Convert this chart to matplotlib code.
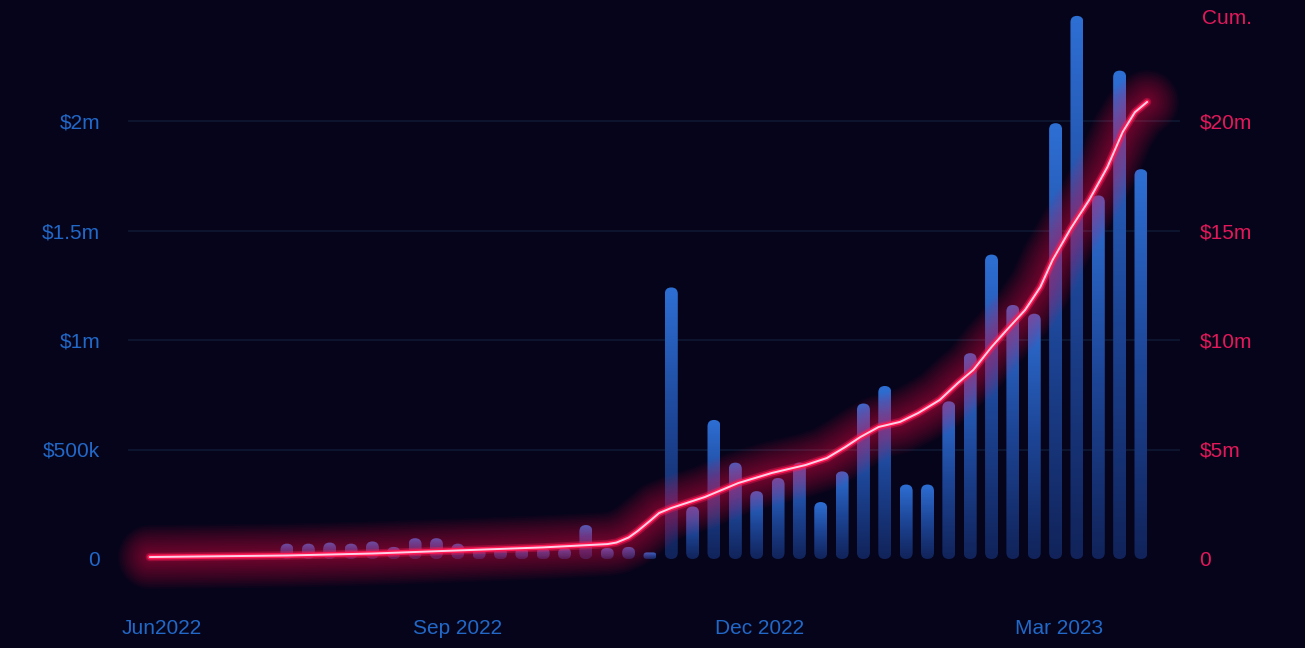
"""Weekly vs cumulative revenue chart, dark neon style."""
import matplotlib
matplotlib.use("Agg")
import matplotlib.pyplot as plt
import matplotlib.dates as mdates
from matplotlib.patches import FancyBboxPatch
from matplotlib.colors import LinearSegmentedColormap
from matplotlib.ticker import FixedLocator
import numpy as np
import pandas as pd

# weekly values ($m), one bar per week
week_start = "2022-07-04"
weekly_usd_m = [
    0.07, 0.07, 0.075, 0.07, 0.08, 0.055, 0.095, 0.095, 0.07, 0.05,
    0.05, 0.05, 0.05, 0.05, 0.155, 0.05, 0.055, 0.03, 1.24, 0.24,
    0.635, 0.44, 0.31, 0.37, 0.44, 0.26, 0.40, 0.71, 0.79, 0.34,
    0.34, 0.72, 0.94, 1.39, 1.16, 1.12, 1.99, 2.48, 1.66, 2.23,
    1.78,
]

# cumulative line ($m)
cum_dates = [
    "2022-05-20", "2022-07-04", "2022-08-01", "2022-08-29", "2022-09-26",
    "2022-10-17", "2022-10-20", "2022-10-24", "2022-10-27", "2022-10-31",
    "2022-11-03", "2022-11-07", "2022-11-18", "2022-11-29", "2022-12-10",
    "2022-12-21", "2022-12-28", "2023-01-03", "2023-01-08", "2023-01-14",
    "2023-01-21", "2023-01-27", "2023-02-03", "2023-02-09", "2023-02-14",
    "2023-02-20", "2023-02-25", "2023-03-03", "2023-03-08", "2023-03-12",
    "2023-03-18", "2023-03-24", "2023-03-30", "2023-04-04", "2023-04-08",
    "2023-04-12",
]
cum_usd_m = [
    0.09, 0.16, 0.25, 0.39, 0.53,
    0.68, 0.75, 0.98, 1.28, 1.74,
    2.10, 2.33, 2.83, 3.47, 3.93,
    4.29, 4.61, 5.11, 5.57, 6.03,
    6.26, 6.67, 7.26, 8.04, 8.63,
    9.68, 10.46, 11.37, 12.42, 13.65,
    15.10, 16.39, 17.90, 19.50, 20.40,
    20.87,
]

tick_dates = ["2022-05-24", "2022-08-29", "2022-12-06", "2023-03-14"]
tick_labels = ["Jun2022", "Sep 2022", "Dec 2022", "Mar 2023"]
left_ticks = [0, 0.5, 1, 1.5, 2]
left_labels = ["0", "$500k", "$1m", "$1.5m", "$2m"]
right_ticks = [0, 5, 10, 15, 20]
right_labels = ["0", "$5m", "$10m", "$15m", "$20m"]

BG = "#06041a"
BLUE_TXT = "#2168c8"
PINK_TXT = "#e3185a"
LINE = "#ff1a55"

plt.rcParams["font.family"] = ["Liberation Sans", "DejaVu Sans"]

W, H = 1305, 648
fig = plt.figure(figsize=(W / 100, H / 100), dpi=100, facecolor=BG)
ax_l, ax_r, ax_t, ax_b = 128, 1180, 0, 580
ax = fig.add_axes([ax_l / W, 1 - ax_b / H, (ax_r - ax_l) / W, (ax_b - ax_t) / H])
ax.set_facecolor(BG)

x = mdates.date2num(pd.date_range(week_start, periods=len(weekly_usd_m), freq="7D"))
d0 = x[0]
px_day = 3.05
px_m = 219.0
xlim = (d0 - (287 - ax_l) / px_day, d0 + (ax_r - 287) / px_day)
ylim = (-(ax_b - 559) / px_m, (559 - ax_t) / px_m)

# grid
for t in left_ticks[1:]:
    ax.axhline(t, color="#0e1630", lw=1.3, zorder=0)

# bars with vertical gradient and rounded ends
cmap = LinearSegmentedColormap.from_list("bar", ["#11235a", "#1d4596", "#2e6fd4"])
grad = np.linspace(0, 1, 256).reshape(-1, 1)
bar_w = 13 / px_day
asp = px_day / px_m
for xi, h in zip(x, weekly_usd_m):
    r = min(6.5 / px_day, h / asp / 2)
    patch = FancyBboxPatch((xi - bar_w / 2, 0), bar_w, h,
                           boxstyle=f"round,pad=0,rounding_size={r}",
                           mutation_aspect=asp, transform=ax.transData,
                           facecolor="none", edgecolor="none")
    ax.add_patch(patch)
    im = ax.imshow(grad, cmap=cmap, origin="lower", aspect="auto",
                   extent=[xi - bar_w / 2, xi + bar_w / 2, 0, h], zorder=2)
    im.set_clip_path(patch)

ax.set_xlim(*xlim)
ax.set_ylim(*ylim)

# cumulative line with soft glow on the right axis
ax2 = ax.twinx()
ax2.set_ylim(ylim[0] * 10, ylim[1] * 10)
lx = mdates.date2num(pd.to_datetime(cum_dates))
style = dict(solid_capstyle="round", solid_joinstyle="round", clip_on=False)
for lw in np.linspace(46, 5, 18):
    ax2.plot(lx, cum_usd_m, color=LINE, lw=lw, alpha=0.03, **style)
ax2.plot(lx, cum_usd_m, color=LINE, lw=6, alpha=0.35, **style)
ax2.plot(lx, cum_usd_m, color=LINE, lw=3.6, **style)
ax2.plot(lx, cum_usd_m, color="#ffdcef", lw=1.4, alpha=0.95, **style)

for a in (ax, ax2):
    for s in a.spines.values():
        s.set_visible(False)
    a.tick_params(length=0)

ax.xaxis.set_major_locator(FixedLocator(mdates.date2num(pd.to_datetime(tick_dates))))
ax.set_xticklabels(tick_labels, color=BLUE_TXT, fontsize=15)
ax.tick_params(axis="x", pad=28)
ax.set_yticks(left_ticks)
ax.set_yticklabels(left_labels, color=BLUE_TXT, fontsize=15)
ax.tick_params(axis="y", pad=20)
ax2.set_yticks(right_ticks)
ax2.set_yticklabels(right_labels, color=PINK_TXT, fontsize=15)
ax2.tick_params(axis="y", pad=14)

fig.text(1202 / W, 1 - 19 / H, "Cum.", color=PINK_TXT, fontsize=15, ha="left", va="center")

fig.savefig("out.png", dpi=100, facecolor=BG)
